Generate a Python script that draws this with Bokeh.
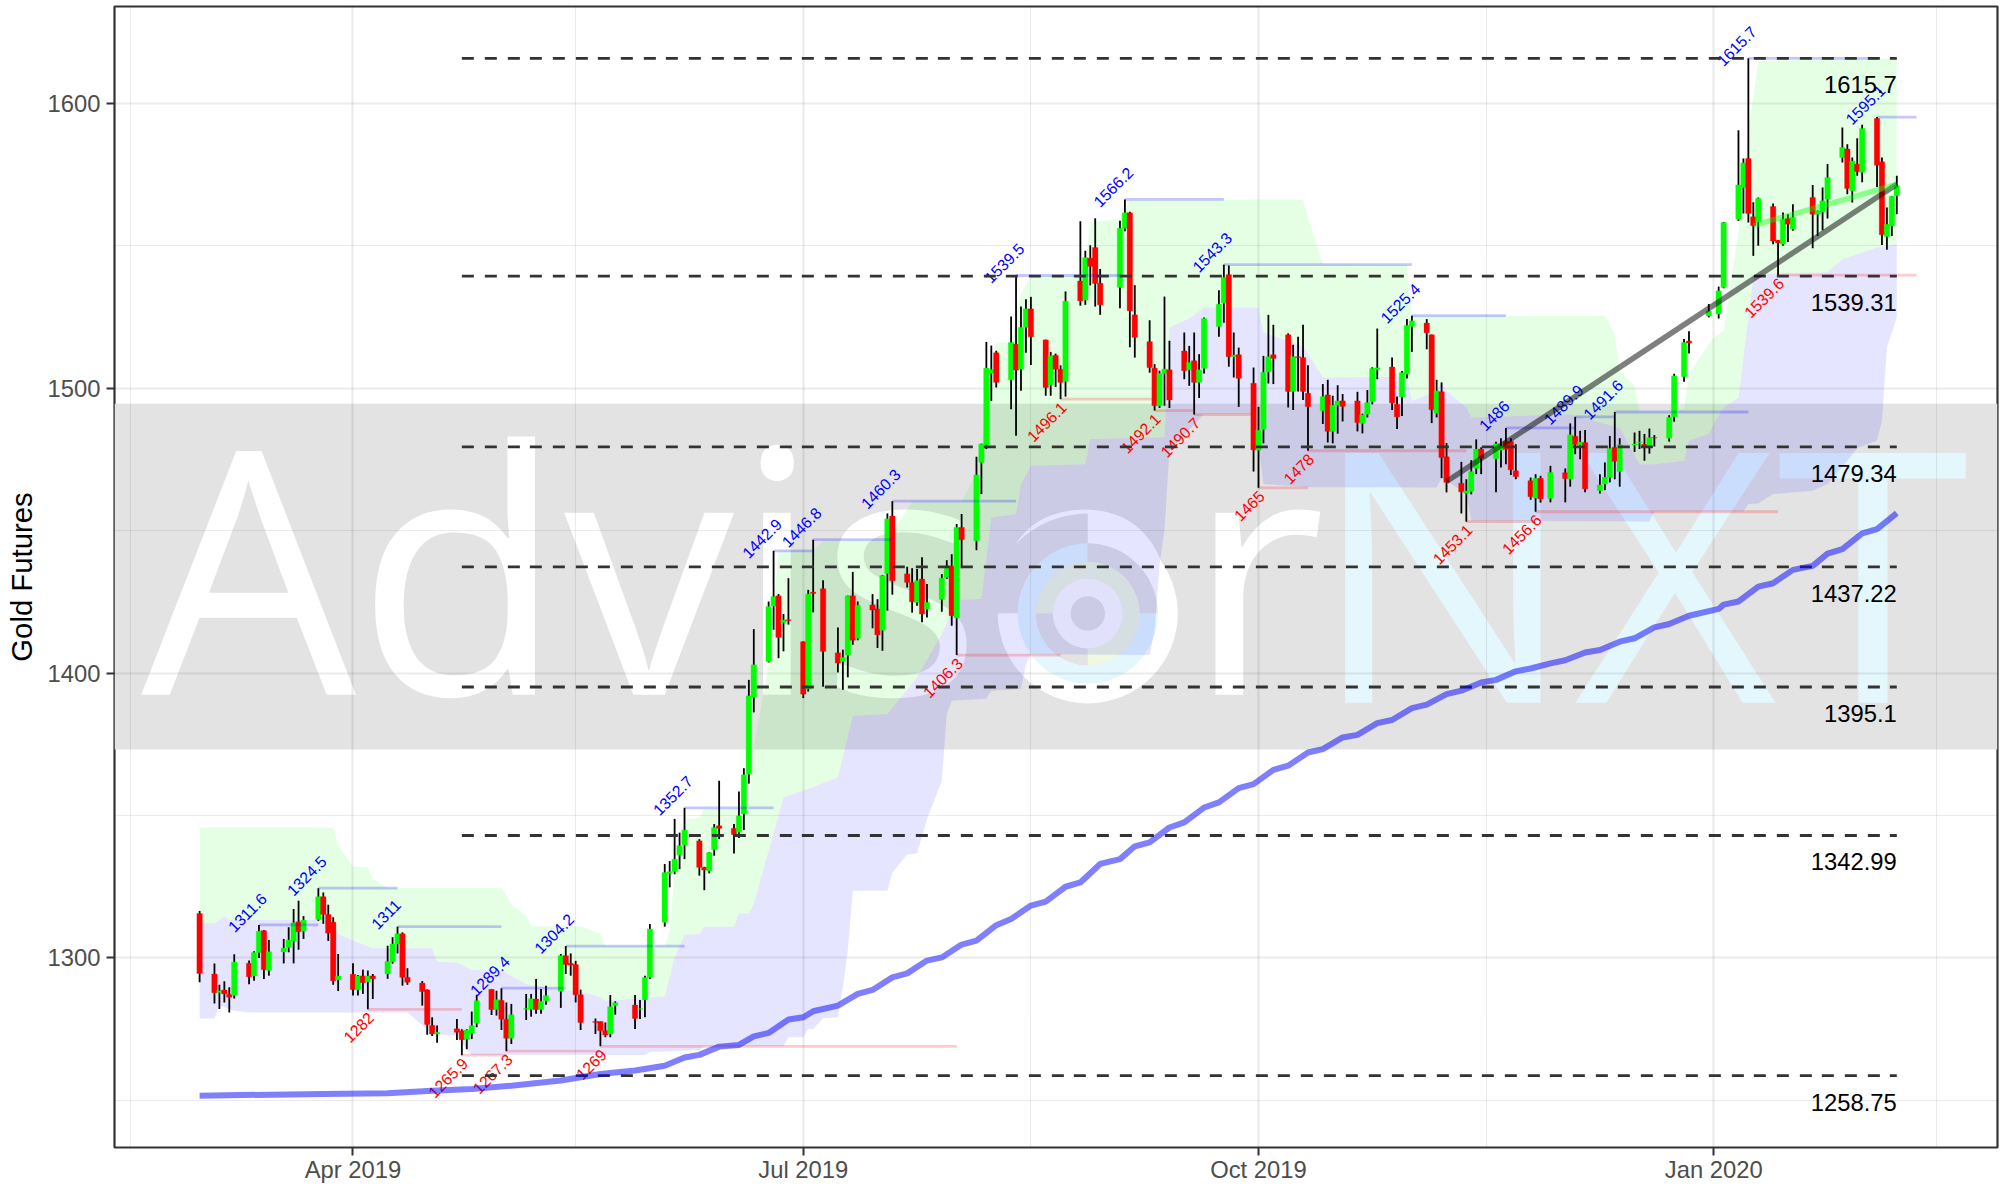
import numpy as np
from bokeh.plotting import figure
from bokeh.models import Range1d, FixedTicker, ColumnDataSource
from bokeh.core.properties import value
from bokeh.embed import file_html
from bokeh.resources import INLINE

# ---- candles ----
dates = [
 "2019-03-01",
 "2019-03-04","2019-03-05","2019-03-06","2019-03-07","2019-03-08",
 "2019-03-11","2019-03-12","2019-03-13","2019-03-14","2019-03-15",
 "2019-03-18","2019-03-19","2019-03-20","2019-03-21","2019-03-22",
 "2019-03-25","2019-03-26","2019-03-27","2019-03-28","2019-03-29",
 "2019-04-01","2019-04-02","2019-04-03","2019-04-04","2019-04-05",
 "2019-04-08","2019-04-09","2019-04-10","2019-04-11","2019-04-12",
 "2019-04-15","2019-04-16","2019-04-17","2019-04-18",
 "2019-04-22","2019-04-23","2019-04-24","2019-04-25","2019-04-26",
 "2019-04-29","2019-04-30","2019-05-01","2019-05-02","2019-05-03",
 "2019-05-06","2019-05-07","2019-05-08","2019-05-09","2019-05-10",
 "2019-05-13","2019-05-14","2019-05-15","2019-05-16","2019-05-17",
 "2019-05-20","2019-05-21","2019-05-22","2019-05-23","2019-05-24",
 "2019-05-28","2019-05-29","2019-05-30","2019-05-31",
 "2019-06-03","2019-06-04","2019-06-05","2019-06-06","2019-06-07",
 "2019-06-10","2019-06-11","2019-06-12","2019-06-13","2019-06-14",
 "2019-06-17","2019-06-18","2019-06-19","2019-06-20","2019-06-21",
 "2019-06-24","2019-06-25","2019-06-26","2019-06-27","2019-06-28",
 "2019-07-01","2019-07-02","2019-07-03","2019-07-05",
 "2019-07-08","2019-07-09","2019-07-10","2019-07-11","2019-07-12",
 "2019-07-15","2019-07-16","2019-07-17","2019-07-18","2019-07-19",
 "2019-07-22","2019-07-23","2019-07-24","2019-07-25","2019-07-26",
 "2019-07-29","2019-07-30","2019-07-31","2019-08-01","2019-08-02",
 "2019-08-05","2019-08-06","2019-08-07","2019-08-08","2019-08-09",
 "2019-08-12","2019-08-13","2019-08-14","2019-08-15","2019-08-16",
 "2019-08-19","2019-08-20","2019-08-21","2019-08-22","2019-08-23",
 "2019-08-26","2019-08-27","2019-08-28","2019-08-29","2019-08-30",
 "2019-09-03","2019-09-04","2019-09-05","2019-09-06",
 "2019-09-09","2019-09-10","2019-09-11","2019-09-12","2019-09-13",
 "2019-09-16","2019-09-17","2019-09-18","2019-09-19","2019-09-20",
 "2019-09-23","2019-09-24","2019-09-25","2019-09-26","2019-09-27",
 "2019-09-30","2019-10-01","2019-10-02","2019-10-03","2019-10-04",
 "2019-10-07","2019-10-08","2019-10-09","2019-10-10","2019-10-11",
 "2019-10-14","2019-10-15","2019-10-16","2019-10-17","2019-10-18",
 "2019-10-21","2019-10-22","2019-10-23","2019-10-24","2019-10-25",
 "2019-10-28","2019-10-29","2019-10-30","2019-10-31","2019-11-01",
 "2019-11-04","2019-11-05","2019-11-06","2019-11-07","2019-11-08",
 "2019-11-11","2019-11-12","2019-11-13","2019-11-14","2019-11-15",
 "2019-11-18","2019-11-19","2019-11-20","2019-11-21","2019-11-22",
 "2019-11-25","2019-11-26","2019-11-27","2019-11-29",
 "2019-12-02","2019-12-03","2019-12-04","2019-12-05","2019-12-06",
 "2019-12-09","2019-12-10","2019-12-11","2019-12-12","2019-12-13",
 "2019-12-16","2019-12-17","2019-12-18","2019-12-19","2019-12-20",
 "2019-12-23","2019-12-24","2019-12-26","2019-12-27","2019-12-31",
 "2020-01-02","2020-01-03",
 "2020-01-06","2020-01-07","2020-01-08","2020-01-09","2020-01-10",
 "2020-01-13","2020-01-14","2020-01-15","2020-01-16","2020-01-17",
 "2020-01-21","2020-01-22","2020-01-23","2020-01-24",
 "2020-01-27","2020-01-28","2020-01-29","2020-01-30","2020-01-31",
 "2020-02-03","2020-02-04","2020-02-05","2020-02-06","2020-02-07",
]
opens = [
 1315.6,
 1294.4,1287.9,1288.8,1287.3,1286.8,
 1298.2,1293.7,1301.9,1309.6,1295.6,
 1302.1,1303.7,1306.0,1312.7,1309.4,
 1313.5,1321.5,1315.3,1312.6,1292.3,
 1294.3,1288.8,1293.7,1291.6,1293.7,
 1294.4,1298.7,1304.9,1308.5,1293.2,
 1291.2,1288.8,1276.4,1273.3,
 1275.2,1274.5,1271.6,1273.6,1277.1,
 1289.0,1281.9,1285.1,1278.5,1271.8,
 1282.0,1282.0,1285.6,1281.9,1285.0,
 1288.3,1300.8,1298.1,1297.7,1287.1,
 1277.7,1277.7,1274.5,1273.3,1283.3,
 1283.5,1282.0,1285.3,1293.2,
 1312.5,1329.7,1330.3,1336.2,1339.7,
 1341.1,1331.8,1330.6,1338.0,1346.4,
 1345.5,1344.1,1350.5,1364.5,1391.4,
 1404.0,1423.5,1427.1,1417.7,1418.7,
 1411.0,1394.4,1428.4,1429.6,
 1407.1,1404.0,1406.3,1427.1,1412.2,
 1423.9,1422.5,1415.0,1434.9,1455.1,
 1434.8,1431.8,1424.8,1433.0,1422.4,
 1425.8,1433.5,1437.5,1419.3,1451.1,
 1446.4,1473.9,1480.1,1505.2,1512.4,
 1502.9,1515.4,1506.7,1521.3,1527.8,
 1516.9,1501.1,1511.5,1506.6,1502.3,
 1537.6,1530.9,1545.6,1549.3,1536.8,
 1535.3,1556.1,1561.5,1525.7,
 1516.3,1507.0,1493.8,1505.1,1506.4,
 1513.0,1506.4,1509.6,1502.0,1506.9,
 1521.6,1529.9,1539.8,1511.0,1511.7,
 1501.7,1478.2,1485.5,1505.7,1511.7,
 1518.7,1498.8,1511.0,1510.7,1498.2,
 1492.0,1497.6,1484.8,1494.1,1495.5,
 1495.5,1487.6,1490.8,1495.2,1506.5,
 1507.4,1494.3,1496.9,1504.9,1521.6,
 1522.8,1518.7,1491.2,1498.7,1475.9,
 1466.6,1463.1,1463.7,1471.8,1478.6,
 1475.2,1478.2,1481.3,1481.3,1471.0,
 1467.5,1461.4,1468.3,1461.3,
 1470.3,1468.1,1483.1,1480.1,1480.9,
 1464.0,1466.3,1468.6,1479.2,1470.7,
 1480.0,1480.9,1480.3,1479.7,1482.6,
 1482.4,1489.9,1504.0,1516.5,1525.3,
 1526.0,1535.3,
 1559.2,1570.4,1580.6,1560.1,1558.3,
 1563.7,1551.9,1550.5,1559.5,1555.8,
 1566.9,1561.0,1561.8,1566.3,
 1580.9,1583.9,1569.2,1578.6,1575.7,
 1594.6,1579.4,1553.2,1556.9,1567.5,
]
highs = [
 1316.5,
 1298.1,1290.6,1291.8,1289.7,1301.3,
 1299.1,1302.4,1311.6,1309.8,1306.3,
 1306.7,1310.8,1317.2,1320.1,1314.7,
 1324.5,1323.0,1318.7,1314.3,1301.4,
 1298.2,1294.0,1295.9,1295.6,1294.4,
 1304.3,1307.3,1311.0,1309.0,1296.4,
 1291.9,1289.0,1279.2,1276.3,
 1278.6,1275.0,1275.0,1281.2,1287.1,
 1289.0,1288.5,1289.4,1284.4,1283.9,
 1287.4,1287.4,1292.6,1289.1,1290.3,
 1301.4,1304.2,1301.6,1299.0,1288.9,
 1278.8,1277.7,1277.4,1287.0,1284.8,
 1287.0,1285.3,1293.8,1311.9,
 1333.0,1334.0,1348.8,1344.0,1352.7,
 1341.7,1332.0,1337.1,1347.0,1362.2,
 1347.0,1358.4,1366.6,1397.6,1415.4,
 1425.1,1442.9,1427.7,1420.7,1433.3,
 1411.1,1429.2,1446.8,1432.6,
 1416.0,1408.2,1427.2,1435.5,1425.1,
 1427.7,1425.9,1434.4,1456.0,1460.3,
 1437.3,1436.8,1436.5,1440.6,1431.2,
 1434.7,1439.6,1441.7,1452.3,1455.8,
 1475.9,1480.5,1516.2,1514.9,1513.1,
 1525.1,1539.5,1528.6,1531.2,1532.0,
 1517.0,1512.7,1512.1,1508.0,1533.9,
 1558.5,1548.2,1550.1,1559.6,1541.8,
 1558.7,1566.2,1561.9,1536.1,
 1523.8,1508.4,1506.1,1532.1,1516.6,
 1519.5,1514.8,1519.5,1511.9,1524.8,
 1534.3,1543.3,1543.0,1519.5,1514.2,
 1507.2,1493.4,1511.3,1525.7,1522.2,
 1519.2,1515.2,1518.0,1522.2,1508.0,
 1501.4,1502.9,1497.3,1501.0,1497.9,
 1498.7,1491.0,1499.3,1507.3,1520.9,
 1510.7,1497.0,1506.0,1524.2,1525.4,
 1524.2,1518.8,1502.9,1502.0,1480.7,
 1474.1,1468.0,1474.7,1482.0,1479.2,
 1481.2,1482.4,1486.0,1482.4,1480.3,
 1468.6,1469.8,1469.2,1472.7,
 1471.8,1487.6,1489.9,1485.0,1485.3,
 1469.8,1473.9,1483.2,1491.6,1482.4,
 1484.4,1485.0,1483.9,1485.8,1483.5,
 1490.5,1505.0,1517.2,1519.9,1529.5,
 1535.6,1558.3,
 1590.5,1580.6,1615.7,1565.2,1566.9,
 1564.8,1552.0,1561.6,1561.0,1564.5,
 1571.3,1562.3,1570.4,1578.6,
 1591.4,1585.6,1580.9,1587.7,1592.4,
 1595.1,1580.9,1563.4,1567.3,1574.5,
]
lows = [
 1291.5,
 1284.0,1282.1,1284.4,1280.9,1285.8,
 1290.8,1292.0,1300.0,1292.6,1293.8,
 1298.1,1302.0,1298.1,1302.9,1306.7,
 1313.0,1312.0,1306.0,1290.6,1288.4,
 1286.8,1286.8,1287.4,1282.0,1285.6,
 1292.7,1298.0,1301.6,1290.3,1290.6,
 1283.3,1273.1,1272.6,1270.3,
 1271.2,1265.9,1268.0,1271.6,1275.7,
 1280.0,1279.8,1274.7,1267.3,1269.8,
 1278.2,1279.4,1280.4,1280.4,1283.6,
 1282.5,1294.4,1293.8,1284.4,1274.7,
 1273.3,1269.0,1272.2,1272.2,1280.1,
 1275.1,1278.6,1279.2,1292.6,
 1311.0,1324.8,1329.4,1331.2,1334.7,
 1328.9,1323.8,1329.7,1335.9,1341.7,
 1336.7,1342.1,1344.9,1361.2,1386.2,
 1403.7,1415.2,1405.2,1407.6,1417.0,
 1391.2,1393.5,1421.3,1395.2,
 1400.2,1394.1,1398.5,1409.9,1411.5,
 1415.7,1408.8,1407.8,1421.9,1427.5,
 1430.0,1421.2,1423.6,1417.8,1419.5,
 1421.5,1433.0,1416.6,1406.3,1436.8,
 1443.1,1462.8,1478.6,1495.5,1500.2,
 1492.6,1483.3,1499.1,1512.4,1508.1,
 1497.3,1497.3,1500.4,1496.1,1497.0,
 1528.9,1529.2,1536.0,1528.6,1525.7,
 1528.0,1555.0,1514.3,1510.7,
 1505.4,1492.1,1493.0,1493.8,1493.0,
 1503.1,1500.8,1490.7,1496.5,1505.1,
 1518.0,1522.9,1507.5,1503.7,1493.4,
 1470.7,1465.0,1480.6,1501.6,1501.4,
 1493.2,1492.3,1498.8,1495.8,1478.0,
 1487.4,1480.9,1480.6,1484.0,1488.3,
 1484.8,1484.1,1489.7,1494.3,1503.1,
 1492.3,1485.6,1490.2,1503.4,1512.7,
 1513.6,1487.7,1489.7,1468.4,1463.4,
 1456.0,1453.1,1462.7,1469.8,1469.8,
 1463.4,1472.1,1473.3,1469.5,1468.0,
 1460.8,1456.6,1459.8,1459.9,
 1459.9,1465.4,1476.8,1475.0,1463.4,
 1463.0,1464.2,1466.9,1468.0,1465.4,
 1477.6,1478.6,1474.5,1477.0,1479.5,
 1481.2,1488.2,1502.2,1512.1,1524.8,
 1524.4,1535.0,
 1558.6,1561.3,1558.1,1546.4,1549.9,
 1550.5,1539.6,1549.9,1551.3,1555.2,
 1549.1,1553.4,1555.4,1559.5,
 1579.2,1568.0,1565.1,1574.5,1572.2,
 1570.6,1550.2,1548.5,1553.4,1561.0,
]
closes = [
 1294.6,
 1287.8,1288.5,1287.4,1286.2,1298.6,
 1293.4,1301.9,1309.4,1295.9,1302.2,
 1303.5,1306.3,1312.4,1309.2,1313.3,
 1321.5,1315.3,1308.7,1292.0,1293.7,
 1288.9,1293.7,1291.3,1293.7,1292.7,
 1298.8,1304.9,1308.5,1293.2,1291.5,
 1288.2,1276.7,1273.3,1273.9,
 1273.9,1271.3,1274.7,1276.3,1285.0,
 1281.9,1285.4,1278.5,1271.8,1280.1,
 1282.3,1285.7,1281.9,1284.8,1286.8,
 1300.8,1297.7,1297.5,1287.1,1277.4,
 1277.4,1274.5,1273.0,1282.9,1284.3,
 1278.8,1282.2,1293.2,1310.2,
 1330.0,1330.3,1334.7,1339.4,1344.9,
 1331.8,1330.9,1337.0,1345.8,1345.5,
 1343.3,1349.9,1364.3,1392.0,1402.9,
 1423.3,1426.8,1412.5,1418.6,1418.4,
 1392.6,1427.7,1427.9,1407.6,
 1403.5,1405.5,1427.1,1411.5,1423.8,
 1422.1,1413.4,1434.2,1454.1,1432.4,
 1431.8,1425.0,1432.4,1420.7,1424.8,
 1433.3,1436.8,1420.1,1451.1,1446.8,
 1469.5,1480.3,1507.0,1506.5,1502.0,
 1516.0,1506.3,1521.3,1527.8,1518.0,
 1500.2,1511.3,1506.6,1502.0,1530.5,
 1530.6,1545.8,1542.7,1536.7,1529.2,
 1556.1,1561.5,1527.1,1517.8,
 1507.2,1493.8,1505.1,1506.7,1495.8,
 1506.1,1509.0,1502.0,1506.4,1524.4,
 1529.4,1538.8,1511.0,1511.6,1503.4,
 1478.3,1485.2,1505.5,1511.0,1510.4,
 1498.8,1511.0,1510.7,1498.8,1493.5,
 1497.0,1484.8,1494.0,1495.5,1493.6,
 1487.9,1490.6,1494.9,1506.9,1507.1,
 1494.8,1489.9,1505.4,1522.0,1523.6,
 1519.4,1492.4,1499.0,1475.6,1466.9,
 1463.6,1463.9,1470.7,1478.6,1475.4,
 1480.5,1479.7,1478.5,1471.3,1468.9,
 1461.9,1468.3,1461.1,1470.4,
 1468.2,1483.6,1480.2,1481.1,1464.6,
 1466.0,1468.7,1478.8,1474.3,1480.1,
 1480.4,1481.1,1479.5,1482.6,1482.5,
 1489.7,1504.3,1516.0,1515.8,1527.0,
 1534.1,1558.1,
 1571.3,1579.0,1561.3,1557.0,1566.5,
 1551.6,1550.9,1559.2,1557.5,1559.9,
 1561.0,1562.2,1565.7,1573.9,
 1584.4,1570.0,1579.7,1575.9,1591.1,
 1578.2,1553.8,1557.5,1567.2,1571.0,
]

# ---- channel edges (date, value) ----
upper_dates = ["2019-03-01","2019-03-28","2019-03-29","2019-04-01","2019-04-04","2019-04-05","2019-04-08","2019-05-01","2019-05-03","2019-05-06","2019-05-07","2019-05-17","2019-05-21","2019-05-22","2019-06-03","2019-06-04","2019-06-05","2019-06-07","2019-06-10","2019-06-11","2019-06-20","2019-06-21","2019-06-24","2019-06-26","2019-07-03","2019-07-05","2019-07-18","2019-07-23","2019-08-02","2019-08-05","2019-08-06","2019-08-07","2019-08-08","2019-08-09","2019-08-12","2019-08-13","2019-08-14","2019-08-16","2019-08-26","2019-08-27","2019-08-28","2019-09-03","2019-09-04","2019-09-05","2019-10-10","2019-10-11","2019-10-14","2019-10-31","2019-11-01","2019-12-10","2019-12-12","2019-12-13","2019-12-16","2019-12-17","2019-12-24","2019-12-26","2019-12-27","2019-12-30","2020-01-01","2020-01-03","2020-01-06","2020-01-07","2020-01-08","2020-01-10","2020-02-07"]
upper_vals = [1345.8,1345.8,1339.4,1332.2,1331.8,1327.7,1324.6,1324.6,1318.9,1314.9,1311.1,1311.1,1308.4,1304.3,1304.3,1309.6,1330.6,1348.7,1349.0,1352.4,1352.4,1373.9,1403.1,1442.9,1442.9,1446.4,1446.6,1460.2,1460.3,1470.0,1480.3,1494.4,1507.0,1516.0,1516.0,1525.0,1533.0,1539.4,1539.4,1543.5,1558.0,1559.5,1562.0,1566.0,1566.2,1559.9,1543.5,1543.3,1525.4,1525.4,1518.9,1506.0,1500.8,1491.8,1491.6,1493.0,1504.9,1513.0,1517.8,1520.0,1555.2,1571.6,1590.3,1614.8,1615.7]
mid_dates = ["2019-03-01","2019-03-04","2019-03-06","2019-03-07","2019-03-25","2019-03-28","2019-03-29","2019-04-01","2019-04-05","2019-04-17","2019-04-18","2019-04-22","2019-04-25","2019-05-01","2019-05-06","2019-05-13","2019-05-17","2019-05-21","2019-05-22","2019-06-03","2019-06-05","2019-06-07","2019-06-10","2019-06-11","2019-06-17","2019-06-18","2019-06-20","2019-06-21","2019-06-27","2019-07-02","2019-07-08","2019-07-11","2019-07-18","2019-07-24","2019-07-29","2019-08-01","2019-08-06","2019-08-08","2019-08-13","2019-08-14","2019-08-16","2019-08-27","2019-08-28","2019-09-12","2019-09-13","2019-09-17","2019-09-20","2019-10-01","2019-10-02","2019-10-10","2019-10-14","2019-10-31","2019-11-01","2019-11-06","2019-11-07","2019-11-08","2019-11-12","2019-11-13","2019-12-03","2019-12-13","2019-12-17","2019-12-20","2019-12-26","2019-12-27","2019-12-31","2020-01-01","2020-01-03","2020-01-06","2020-01-08","2020-01-09","2020-01-10","2020-01-24","2020-01-27","2020-01-30","2020-02-03","2020-02-07"]
mid_vals = [1312.2,1312.2,1314.6,1313.3,1313.3,1311.9,1308.4,1306.1,1303.4,1303.4,1298.7,1298.4,1295.8,1295.6,1290.9,1288.8,1288.3,1286.2,1285.0,1286.5,1300.2,1308.2,1308.4,1311.0,1311.0,1315.7,1315.7,1319.0,1356.4,1359.3,1363.4,1385.0,1385.6,1398.5,1413.7,1425.6,1426.0,1454.6,1455.8,1466.3,1472.7,1473.3,1482.1,1482.7,1521.3,1524.4,1528.3,1528.3,1519.5,1514.8,1503.7,1504.0,1495.5,1499.0,1502.0,1499.0,1493.2,1489.7,1490.8,1486.0,1473.3,1473.3,1474.5,1481.5,1484.0,1487.4,1493.2,1496.7,1524.8,1538.8,1540.0,1540.6,1545.2,1547.0,1549.3,1550.5]
lower_dates = ["2019-03-01","2019-03-04","2019-03-05","2019-03-08","2019-03-11","2019-04-12","2019-04-17","2019-04-22","2019-04-23","2019-04-25","2019-05-30","2019-05-31","2019-06-10","2019-06-11","2019-06-27","2019-06-28","2019-07-01","2019-07-02","2019-07-03","2019-07-05","2019-07-08","2019-07-09","2019-07-10","2019-07-11","2019-07-18","2019-07-19","2019-07-22","2019-07-24","2019-07-26","2019-07-29","2019-07-30","2019-07-31","2019-08-07","2019-08-08","2019-08-14","2019-08-15","2019-08-16","2019-09-09","2019-09-10","2019-09-11","2019-09-12","2019-09-13","2019-09-20","2019-09-30","2019-10-01","2019-10-02","2019-10-11","2019-11-06","2019-11-07","2019-11-12","2019-11-13","2019-12-19","2019-12-20","2020-01-07","2020-01-08","2020-01-10","2020-01-13","2020-01-21","2020-01-24","2020-01-28","2020-01-30","2020-02-03","2020-02-04","2020-02-05","2020-02-07"]
lower_vals = [1278.8,1278.8,1283.3,1281.5,1280.9,1280.9,1273.3,1272.8,1270.0,1266.0,1266.0,1267.0,1267.7,1269.0,1269.0,1272.2,1272.2,1275.1,1275.1,1278.9,1279.2,1289.7,1302.6,1323.6,1323.6,1330.0,1336.3,1336.7,1348.8,1362.2,1385.6,1390.3,1391.0,1393.8,1394.4,1403.0,1406.6,1406.3,1414.8,1438.2,1450.0,1478.0,1490.9,1490.9,1480.4,1466.3,1465.2,1465.1,1468.4,1463.0,1453.4,1453.2,1456.7,1456.7,1459.3,1459.5,1462.8,1464.0,1466.3,1474.5,1479.0,1481.5,1488.5,1514.2,1524.8]

# ---- long moving average ----
ma_dates = ["2019-03-01","2019-03-26","2019-04-08","2019-04-17","2019-04-25","2019-05-03","2019-05-13","2019-05-21","2019-05-28","2019-06-03","2019-06-07","2019-06-10","2019-06-14","2019-06-18","2019-06-21","2019-06-24","2019-06-28","2019-07-01","2019-07-03","2019-07-08","2019-07-12","2019-07-15","2019-07-19","2019-07-22","2019-07-26","2019-07-29","2019-08-02","2019-08-05","2019-08-09","2019-08-12","2019-08-16","2019-08-19","2019-08-23","2019-08-26","2019-08-30","2019-09-03","2019-09-06","2019-09-09","2019-09-13","2019-09-16","2019-09-20","2019-09-23","2019-09-27","2019-09-30","2019-10-04","2019-10-07","2019-10-11","2019-10-14","2019-10-18","2019-10-21","2019-10-25","2019-10-28","2019-11-01","2019-11-04","2019-11-08","2019-11-11","2019-11-15","2019-11-18","2019-11-22","2019-11-25","2019-11-29","2019-12-02","2019-12-06","2019-12-09","2019-12-13","2019-12-16","2019-12-20","2019-12-23","2019-12-27","2020-01-02","2020-01-03","2020-01-06","2020-01-10","2020-01-13","2020-01-17","2020-01-21","2020-01-24","2020-01-27","2020-01-31","2020-02-03","2020-02-07"]
ma_vals = [1251.7,1252.3,1252.5,1253.4,1254.0,1255.2,1257.0,1259.3,1260.5,1262.2,1265.1,1266.0,1268.9,1269.5,1272.5,1273.7,1278.4,1279.2,1281.3,1283.3,1287.4,1288.8,1293.2,1294.6,1299.1,1300.2,1304.7,1306.1,1311.5,1313.7,1318.4,1319.8,1325.0,1326.5,1333.0,1334.7,1339.2,1340.6,1345.8,1347.6,1352.8,1354.6,1359.6,1361.0,1366.0,1367.5,1372.1,1373.3,1377.4,1378.3,1382.4,1383.5,1387.7,1388.9,1392.6,1393.8,1396.7,1397.6,1400.6,1401.6,1403.4,1404.5,1407.2,1408.1,1411.0,1412.2,1416.0,1417.2,1420.1,1422.5,1424.0,1425.1,1430.3,1431.5,1436.2,1437.6,1441.9,1443.5,1449.0,1450.5,1456.1]

# ---- swing highs / lows: date, value, date the marker line ends ----
high_dates = ["2019-03-13","2019-03-25","2019-04-10","2019-05-01","2019-05-14","2019-06-07","2019-06-25","2019-07-03","2019-07-19","2019-08-13","2019-09-04","2019-09-24","2019-11-01","2019-11-20","2019-12-04","2019-12-12","2020-01-08","2020-02-03"]
high_vals = [1311.6,1324.5,1311,1289.4,1304.2,1352.7,1442.9,1446.8,1460.3,1539.5,1566.2,1543.3,1525.4,1486,1489.9,1491.6,1615.7,1595.1]
high_ends = ["2019-03-25","2019-04-10","2019-05-01","2019-05-14","2019-06-07","2019-06-25","2019-07-03","2019-07-19","2019-08-13","2019-09-04","2019-09-24","2019-11-01","2019-11-20","2019-12-04","2019-12-12","2020-01-08","2020-02-03","2020-02-11"]
low_dates = ["2019-04-04","2019-04-23","2019-05-02","2019-05-21","2019-08-01","2019-08-22","2019-09-10","2019-09-18","2019-10-01","2019-10-11","2019-11-12","2019-11-26","2020-01-14"]
low_vals = [1282,1265.9,1267.3,1269,1406.3,1496.1,1492.1,1490.7,1465,1478,1453.1,1456.6,1539.6]
low_ends = ["2019-04-23","2019-05-02","2019-05-21","2019-08-01","2019-08-22","2019-09-10","2019-09-18","2019-09-30","2019-10-11","2019-11-12","2019-11-26","2020-01-14","2020-02-11"]

# ---- fibonacci style levels ----
level_vals = [1615.7,1539.31,1479.34,1437.22,1395.1,1342.99,1258.75]
level_labels = ["1615.7","1539.31","1479.34","1437.22","1395.1","1342.99","1258.75"]
level_start = "2019-04-23"
level_end = "2020-02-07"

# ---- trend lines ----
trend_dates = ["2019-11-08","2020-02-07"]
trend_vals = [1467.2,1571.5]
short_trend_dates = ["2020-01-09","2020-02-07"]
short_trend_vals = [1557.0,1571.5]

# ---- axes ----
x_tick_dates = ["2019-04-01","2019-07-01","2019-10-01","2020-01-01"]
x_tick_labels = ["Apr 2019","Jul 2019","Oct 2019","Jan 2020"]
x_minor_dates = ["2019-02-15","2019-05-16","2019-08-16","2019-11-16","2020-02-15"]
y_ticks = [1300,1400,1500,1600]
y_minor = [1250,1350,1450,1550]
y_label = "Gold Futures"

# ---- watermark ----
band_bottom, band_top = 1373.2, 1494.5
wm_word1, wm_word2 = "Advisor", "NXT"


def ms(d):
    return float(np.datetime64(d, "ms").astype("int64"))


def msl(ds):
    return [ms(d) for d in ds]


DAY = 86400000.0
apr1 = ms("2019-04-01")
x0, x1 = apr1 - 48.2 * DAY, apr1 + 332.35 * DAY

p = figure(width=2005, height=1178, output_backend="svg", toolbar_location=None,
           x_range=Range1d(x0, x1), y_range=Range1d(1233.5, 1633.9),
           min_border_left=114, min_border_top=6, min_border_right=8, min_border_bottom=31,
           frame_width=1883, frame_height=1141, background_fill_color="white",
           border_fill_color="white")
p.outline_line_color = "#333333"
p.outline_line_width = 2.2

FONT = "Liberation Sans"
# axes
p.xaxis.ticker = FixedTicker(ticks=msl(x_tick_dates))
p.xaxis.major_label_overrides = {ms(d): l for d, l in zip(x_tick_dates, x_tick_labels)}
p.yaxis.ticker = FixedTicker(ticks=y_ticks)
p.axis.major_label_text_font = FONT
p.axis.major_label_text_font_size = "23.8px"
p.axis.major_label_text_color = "#4D4D4D"
p.axis.major_tick_line_color = "#333333"
p.axis.major_tick_line_width = 2
p.axis.major_tick_in = 0
p.axis.major_tick_out = 8
p.axis.minor_tick_line_color = None
p.axis.axis_line_color = None
p.xaxis.major_label_standoff = 0
p.yaxis.major_label_standoff = 6
p.yaxis.axis_label = y_label
p.yaxis.axis_label_text_font = FONT
p.yaxis.axis_label_text_font_size = "29.3px"
p.yaxis.axis_label_text_font_style = "normal"
p.yaxis.axis_label_text_color = "black"
p.yaxis.axis_label_standoff = 7

# grid: translucent, so it darkens over the grey band as in the original
p.xgrid.ticker = FixedTicker(ticks=msl(x_tick_dates), minor_ticks=msl(x_minor_dates))
p.ygrid.ticker = FixedTicker(ticks=y_ticks, minor_ticks=y_minor)
p.grid.grid_line_color = "black"
p.grid.grid_line_alpha = 0.08
p.grid.grid_line_width = 2.2
p.grid.minor_grid_line_color = "black"
p.grid.minor_grid_line_alpha = 0.08
p.grid.minor_grid_line_width = 1.1
p.grid.level = "underlay"

# watermark band, words and logo below the grid
p.quad(left=[x0], right=[x1], bottom=[band_bottom], top=[band_top], fill_color="#E3E3E3",
       line_color=None, level="image")
WM_FONT = value("Open Sans")
p.text(x=[apr1 - 42.8 * DAY], y=[1438.5], text=[wm_word1], text_font=WM_FONT,
       text_font_size=value("340px"), text_color="white", text_align="left",
       text_baseline="alphabetic", level="image")
p.text(x=[apr1 + 193.6 * DAY], y=[1437.1], text=[wm_word2], text_font=WM_FONT,
       text_font_size=value("350px"), text_color="#E3F7FD", text_align="left",
       text_baseline="alphabetic", level="image")

logo_x = apr1 + 148.5 * DAY
logo_y = 1420.9
q = np.pi / 2


def ring(r0, r1, a0, a1, col, alpha=1.0):
    p.annular_wedge(x=[logo_x], y=[logo_y], inner_radius=r0, outer_radius=r1,
                    inner_radius_units="screen", outer_radius_units="screen",
                    start_angle=a0, end_angle=a1, fill_color=col, fill_alpha=alpha,
                    line_color=None, level="image")


ring(70, 100, q, 2 * q, "#E3E3E3")         # the 'o' opens at upper left
ring(70, 90, 2 * q, 5 * q, "white")
ring(51.7, 70, q, 4 * q, "#E3F7FD")        # cyan three quarters
ring(51.7, 70, 0, q, "#E3E3E3")
ring(35, 51.7, 2 * q, 3 * q, "#E3E3E3")    # pale green three quarters
ring(35, 51.7, 3 * q, 6 * q, "#EEF9DF")
ring(17, 35, 0, 4 * q, "white", 0.85)
ring(0, 17, 0, 4 * q, "#E3E3E3")

# channels
ux, mx, lx = msl(upper_dates), msl(mid_dates), msl(lower_dates)
p.patch(ux + mx[::-1], upper_vals + mid_vals[::-1], fill_color="#00FF00", fill_alpha=0.1, line_color=None)
p.patch(mx + lx[::-1], mid_vals + lower_vals[::-1], fill_color="#0000FF", fill_alpha=0.1, line_color=None)

# candles
cx = msl(dates)
assert len(cx) == len(opens) == len(highs) == len(lows) == len(closes)
colors = ["#00FF00" if c >= o else "#FF0000" for o, c in zip(opens, closes)]
src = ColumnDataSource(dict(x=cx, o=opens, h=highs, l=lows, c=closes, col=colors))
p.segment(x0="x", y0="l", x1="x", y1="h", source=src, line_color="black", line_width=1.8)
p.vbar(x="x", width=1.1 * DAY, top="o", bottom="c", source=src, fill_color="col", line_color="col", line_width=0.3)

# swing markers and labels
p.segment(x0=msl(high_dates), y0=high_vals, x1=msl(high_ends), y1=high_vals, line_color="#0000FF", line_alpha=0.22, line_width=2.8)
p.segment(x0=msl(low_dates), y0=low_vals, x1=msl(low_ends), y1=low_vals, line_color="#FF0000", line_alpha=0.2, line_width=2.8)
p.text(x=[ms(d) - 2.4 * DAY for d in high_dates], y=[v + 4.4 for v in high_vals], text=[f"{v:g}" for v in high_vals],
       text_color="#0000FF", text_font=value(FONT), text_font_size=value("15.8px"), angle=45, angle_units="deg",
       text_align="center", text_baseline="middle")
p.text(x=[ms(d) + 0.6 * DAY for d in low_dates], y=[v - 1.9 for v in low_vals], text=[f"{v:g}" for v in low_vals],
       text_color="#FF0000", text_font=value(FONT), text_font_size=value("15.8px"), angle=45, angle_units="deg",
       text_align="right", text_baseline="middle")

# levels
p.segment(x0=[ms(level_start)] * len(level_vals), y0=level_vals, x1=[ms(level_end)] * len(level_vals), y1=level_vals,
          line_color="#333333", line_width=2.8, line_dash="12 11 12 11 12 10")
p.text(x=[ms(level_end)] * len(level_vals), y=[v - 9.3 for v in level_vals], text=level_labels,
       text_color="black", text_font=value(FONT), text_font_size=value("23.8px"),
       text_align="right", text_baseline="middle")

# moving average and trend lines
p.line(msl(ma_dates), ma_vals, line_color="#0000FF", line_alpha=0.5, line_width=6)
p.line(msl(trend_dates), trend_vals, line_color="black", line_alpha=0.5, line_width=5.5)
p.line(msl(short_trend_dates), short_trend_vals, line_color="#00FF00", line_alpha=0.4, line_width=5.5)

open("out.html", "w").write(file_html(p, INLINE))
